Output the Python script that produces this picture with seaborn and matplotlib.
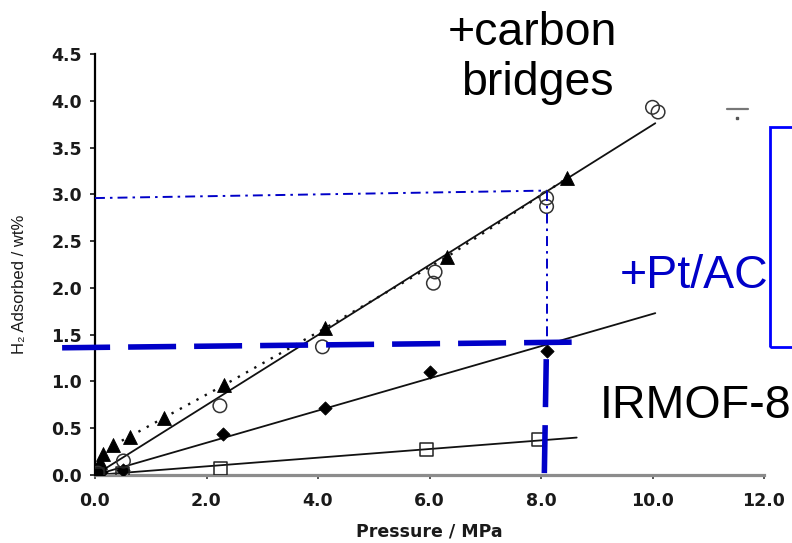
import matplotlib
matplotlib.use("Agg")
import matplotlib.pyplot as plt
import matplotlib.patches as mpatches
from matplotlib.lines import Line2D
import seaborn as sns

# ---------------- data ----------------
tri_x = [0.03, 0.09, 0.15, 0.33, 0.62, 1.23, 2.31, 4.13, 6.31, 8.46]
tri_y = [0.06, 0.14, 0.22, 0.32, 0.41, 0.61, 0.96, 1.57, 2.33, 3.17]

circ_x = [0.05, 0.51, 2.24, 4.08, 6.07, 6.10, 8.10, 8.10, 10.00, 10.10]
circ_y = [0.02, 0.15, 0.74, 1.37, 2.05, 2.17, 2.87, 2.96, 3.93, 3.88]

dia_x = [0.03, 0.10, 0.50, 2.29, 4.13, 6.01, 8.10]
dia_y = [0.01, 0.03, 0.05, 0.44, 0.72, 1.10, 1.33]

sq_x = [0.05, 0.50, 2.25, 5.94, 7.95]
sq_y = [0.00, 0.01, 0.07, 0.27, 0.38]

# linear fits drawn in the original figure
circ_fit_x = [0.0, 10.05]
circ_fit_y = [0.0, 3.76]
dia_fit_x = [0.0, 10.05]
dia_fit_y = [0.0, 1.73]
sq_fit_x = [0.0, 8.64]
sq_fit_y = [0.0, 0.40]

# blue guide lines (annotations)
guide_h_x = [0.0, 8.10]
guide_h_y = [2.96, 3.04]
guide_v_x = [8.10, 8.10]
guide_v_y = [3.04, 1.46]
thick_h_x = [-0.59, 8.55]
thick_h_y = [1.36, 1.42]
thick_v_x = [8.06, 8.10]
thick_v_y = [0.02, 1.44]

x_ticks = [0, 2, 4, 6, 8, 10, 12]
x_tick_labels = ["0.0", "2.0", "4.0", "6.0", "8.0", "10.0", "12.0"]
y_ticks = [0, 0.5, 1.0, 1.5, 2.0, 2.5, 3.0, 3.5, 4.0, 4.5]
y_tick_labels = ["0.0", "0.5", "1.0", "1.5", "2.0", "2.5", "3.0", "3.5", "4.0", "4.5"]

x_label = "Pressure / MPa"
y_label = "H\u2082 Adsorbed / wt%"
label_carbon_1 = "+carbon"
label_carbon_2 = "bridges"
label_pt = "+Pt/AC"
label_irmof = "IRMOF-8"

# ---------------- style ----------------
sns.set_style("white")
plt.rcParams["font.family"] = ["DejaVu Sans"]

W, H = 792, 543
fig = plt.figure(figsize=(W / 100, H / 100), dpi=100)
ax = fig.add_axes([95 / W, 1 - 475 / H, (764 - 95) / W, (475 - 54) / H])
ax.set_facecolor("none")

BLUE = "#0000c8"
BLACK = "#111111"

# fit lines
for fx, fy in [(circ_fit_x, circ_fit_y), (dia_fit_x, dia_fit_y), (sq_fit_x, sq_fit_y)]:
    sns.lineplot(x=fx, y=fy, color=BLACK, lw=1.3, ax=ax,
                 sort=False, estimator=None, zorder=2)
sns.lineplot(x=tri_x[3:], y=tri_y[3:], color=BLACK, lw=1.7, ax=ax,
             sort=False, estimator=None, linestyle=(0, (1, 3)), zorder=2)

# markers
sns.scatterplot(x=tri_x, y=tri_y, marker="^", s=100, color="black",
                edgecolor="black", linewidth=0.6, ax=ax, zorder=4)
sns.scatterplot(x=dia_x, y=dia_y, marker="D", s=45, color="black",
                edgecolor="black", linewidth=0.6, ax=ax, zorder=4)
sns.scatterplot(x=circ_x, y=circ_y, marker="o", s=95, facecolor="none",
                edgecolor="#333333", linewidth=1.1, ax=ax, zorder=4)
sns.scatterplot(x=sq_x, y=sq_y, marker="s", s=90, facecolor="none",
                edgecolor="#222222", linewidth=1.1, ax=ax, zorder=4)

# blue guide lines
sns.lineplot(x=guide_h_x, y=guide_h_y, color=BLUE, lw=1.4, ax=ax, sort=False,
             estimator=None, linestyle=(0, (5.1, 2.6, 1.3, 2.6)), zorder=5)
sns.lineplot(x=guide_v_x, y=guide_v_y, color=BLUE, lw=1.4, ax=ax, sort=False,
             estimator=None, linestyle=(0, (5.1, 2.6, 1.3, 2.6)), zorder=5)
sns.lineplot(x=thick_h_x, y=thick_h_y, color=BLUE, lw=4.0, ax=ax, sort=False,
             estimator=None, linestyle=(0, (8.64, 3.24)), clip_on=False, zorder=6)
sns.lineplot(x=thick_v_x, y=thick_v_y, color=BLUE, lw=4.0, ax=ax, sort=False,
             estimator=None, linestyle=(0, (8.64, 3.24)), clip_on=False, zorder=6)

# axes
ax.set_xlim(0, 12)
ax.set_ylim(0, 4.5)
ax.set_xticks(x_ticks)
ax.set_xticklabels(x_tick_labels)
ax.set_yticks(y_ticks)
ax.set_yticklabels(y_tick_labels)
for lab in ax.get_xticklabels() + ax.get_yticklabels():
    lab.set_fontweight("bold")
    lab.set_fontsize(12.5)
    lab.set_color("#1a1a1a")
ax.tick_params(axis="y", direction="out", length=3.8, width=1.1, color="black",
               pad=5.5, left=True)
ax.tick_params(axis="x", direction="out", length=3.0, width=1.4, color="#555555",
               pad=9, bottom=True)
for s in ["top", "right"]:
    ax.spines[s].set_visible(False)
ax.spines["left"].set_color("black")
ax.spines["left"].set_linewidth(1.6)
ax.spines["bottom"].set_color("#8c8c8c")
ax.spines["bottom"].set_linewidth(2.3)
ax.spines["left"].set_zorder(3)

ax.set_xlabel(x_label, fontsize=12.5, fontweight="bold", color="#1a1a1a", labelpad=9)
ax.set_ylabel("")
fig.text(20 / W, 1 - 284 / H, y_label, rotation=90, ha="center", va="center",
         fontsize=12, family=["Liberation Sans", "DejaVu Sans"], color="#1a1a1a")

# big annotation texts
big = dict(fontsize=33.5, family=["Liberation Sans", "DejaVu Sans"], va="baseline")
fig.text(532 / W, 1 - 45 / H, label_carbon_1, ha="center", color="black", **big)
fig.text(537 / W, 1 - 95 / H, label_carbon_2, ha="center", color="black", **big)
fig.text(620 / W, 1 - 288 / H, label_pt, ha="left", color=BLUE, **big)
fig.text(600 / W, 1 - 418 / H, label_irmof, ha="left", color="black", **big)

# blue bracket box at the right edge
fig.patches.append(mpatches.Rectangle((770 / W, 1 - 347 / H), 0.08, 220 / H,
                                      transform=fig.transFigure, fill=False,
                                      edgecolor="#0000ff", linewidth=2.0))
# small grey mark at top right
fig.lines.append(Line2D([727 / W, 748 / W], [1 - 109 / H, 1 - 109 / H],
                        transform=fig.transFigure, color="#777777", lw=1.6))
fig.lines.append(Line2D([737 / W], [1 - 118 / H], transform=fig.transFigure,
                        color="#555555", marker="s", ms=2, lw=0))

fig.savefig("out.png", dpi=100)
